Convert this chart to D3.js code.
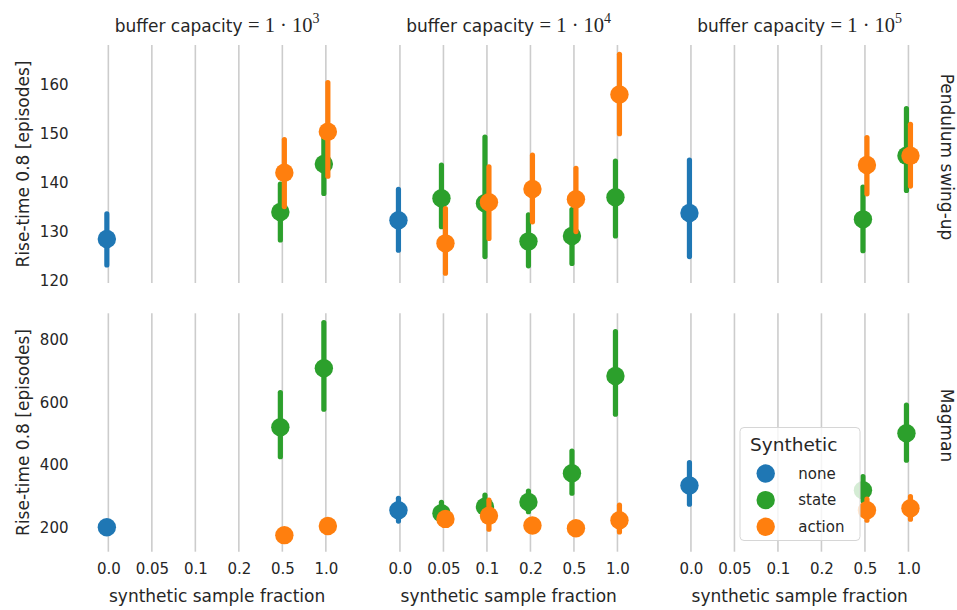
<!DOCTYPE html>
<html>
<head>
<meta charset="utf-8">
<script src="https://cdn.jsdelivr.net/npm/d3@7"></script>
<style>
  html, body { margin: 0; padding: 0; background: #fff; }
  svg { display: block; font-family: "DejaVu Sans", sans-serif; }
</style>
</head>
<body>
<svg id="chart" width="957" height="610"></svg>
<script>
// Categories along x, facet columns/rows and hue levels
const fractions = ["0.0", "0.05", "0.1", "0.2", "0.5", "1.0"];
const bufferExponents = ["3", "4", "5"];
const tasks = ["Pendulum swing-up", "Magman"];
const hues = ["none", "state", "action"];
const hueColors = ["#1f77b4", "#2ca02c", "#ff7f0e"];

// Y ticks per row
const pendulumTicks = [120, 130, 140, 150, 160];
const magmanTicks = [200, 400, 600, 800];

// Point estimates with interval: [bufferIndex, fraction, hue, mean, low, high]
const pendulumPoints = [
  [0, "0.0", "none", 128.6, 123.3, 133.7],
  [0, "0.5", "state", 134.1, 128.4, 139.8],
  [0, "0.5", "action", 142.1, 135.2, 148.9],
  [0, "1.0", "state", 143.9, 137.9, 149.6],
  [0, "1.0", "action", 150.5, 141.4, 160.5],
  [1, "0.0", "none", 132.4, 126.3, 138.7],
  [1, "0.05", "state", 136.9, 131.1, 143.7],
  [1, "0.05", "action", 127.7, 121.6, 134.8],
  [1, "0.1", "state", 135.9, 125.0, 149.4],
  [1, "0.1", "action", 136.1, 128.7, 143.3],
  [1, "0.2", "state", 128.1, 123.1, 133.5],
  [1, "0.2", "action", 138.8, 132.1, 145.7],
  [1, "0.5", "state", 129.2, 123.6, 134.6],
  [1, "0.5", "action", 136.7, 130.1, 143.0],
  [1, "1.0", "state", 137.1, 129.2, 144.5],
  [1, "1.0", "action", 158.1, 150.1, 166.3],
  [2, "0.0", "none", 133.9, 125.0, 144.7],
  [2, "0.5", "state", 132.6, 126.2, 139.2],
  [2, "0.5", "action", 143.7, 137.8, 149.3],
  [2, "1.0", "state", 145.6, 138.5, 155.2],
  [2, "1.0", "action", 145.6, 139.4, 152.0]
];
const magmanPoints = [
  [0, "0.0", "none", 200, 196, 204],
  [0, "0.5", "state", 520, 426, 631],
  [0, "0.5", "action", 175, 171, 179],
  [0, "1.0", "state", 709, 578, 855],
  [0, "1.0", "action", 204, 200, 208],
  [1, "0.0", "none", 255, 220, 293],
  [1, "0.05", "state", 245, 218, 280],
  [1, "0.05", "action", 227, 221, 233],
  [1, "0.1", "state", 266, 236, 303],
  [1, "0.1", "action", 237, 194, 287],
  [1, "0.2", "state", 281, 250, 316],
  [1, "0.2", "action", 206, 201, 211],
  [1, "0.5", "state", 373, 309, 444],
  [1, "0.5", "action", 197, 192, 202],
  [1, "1.0", "state", 684, 562, 826],
  [1, "1.0", "action", 223, 185, 271],
  [2, "0.0", "none", 334, 274, 407],
  [2, "0.5", "state", 319, 285, 362],
  [2, "0.5", "action", 255, 223, 290],
  [2, "1.0", "state", 501, 415, 591],
  [2, "1.0", "action", 261, 226, 298]
];

const textColor = "#262626";
const svg = d3.select("#chart");

// Facet geometry
const colLeft = [86.6, 378.2, 669.2];
const colWidth = 261;
const rowTop = [45, 313.3];
const rowBottom = [283, 551.7];
const rowDomains = [[119.6, 168.2], [122, 884.8]];
const rowTicks = [pendulumTicks, magmanTicks];
const rowData = [pendulumPoints, magmanPoints];
const hueShift = { none: -1.5, state: -2, action: 2 };

const hueColor = d3.scaleOrdinal().domain(hues).range(hueColors);

tasks.forEach((task, r) => {
  const y = d3.scaleLinear().domain(rowDomains[r]).range([rowBottom[r], rowTop[r]]);
  bufferExponents.forEach((exp, c) => {
    const x = d3.scalePoint().domain(fractions)
      .range([colLeft[c], colLeft[c] + colWidth]).padding(0.5);
    const g = svg.append("g");

    // vertical category grid
    g.selectAll("line.grid").data(fractions).join("line")
      .attr("x1", d => x(d)).attr("x2", d => x(d))
      .attr("y1", rowTop[r]).attr("y2", rowBottom[r])
      .attr("stroke", "#cccccc").attr("stroke-width", 1.6);

    // y tick labels only on the first column
    if (c === 0) {
      const yAxis = d3.axisLeft(y).tickValues(rowTicks[r]).tickSize(0).tickPadding(0);
      const ag = g.append("g").attr("transform", `translate(68.5,0)`).call(yAxis);
      ag.select(".domain").remove();
      ag.selectAll("text").attr("font-size", 15).attr("fill", textColor)
        .attr("font-family", "DejaVu Sans");
    }

    // x tick labels and axis label on the bottom row
    if (r === tasks.length - 1) {
      const xAxis = d3.axisBottom(x).tickSize(0).tickPadding(0);
      const ag = g.append("g").attr("transform", `translate(0,563.5)`).call(xAxis);
      ag.select(".domain").remove();
      ag.selectAll("text").attr("font-size", 15).attr("fill", textColor)
        .attr("font-family", "DejaVu Sans").attr("dy", "0.71em");
      g.append("text")
        .attr("x", colLeft[c] + colWidth / 2).attr("y", 602)
        .attr("text-anchor", "middle").attr("font-size", 17).attr("fill", textColor)
        .text("synthetic sample fraction");
    }

    // column titles on the top row
    if (r === 0) {
      const t = g.append("text")
        .attr("x", colLeft[c] + colWidth / 2).attr("y", 32)
        .attr("text-anchor", "middle").attr("fill", textColor);
      t.append("tspan").attr("font-size", 17).text("buffer capacity ");
      t.append("tspan").attr("font-family", "Liberation Serif, serif").attr("font-size", 20.5)
        .text("= 1 \u00B7 10");
      t.append("tspan").attr("font-family", "Liberation Serif, serif").attr("font-size", 14)
        .attr("dy", -9).text(exp);
    }

    // points with interval bars, drawn hue by hue
    const pts = rowData[r].filter(p => p[0] === c);
    hues.forEach(h => {
      const hp = pts.filter(p => p[2] === h);
      g.selectAll(null).data(hp).join("line")
        .attr("x1", p => x(p[1]) + hueShift[h]).attr("x2", p => x(p[1]) + hueShift[h])
        .attr("y1", p => y(p[4])).attr("y2", p => y(p[5]))
        .attr("stroke", hueColor(h)).attr("stroke-width", 5.2).attr("stroke-linecap", "round");
      g.selectAll(null).data(hp).join("circle")
        .attr("cx", p => x(p[1]) + hueShift[h]).attr("cy", p => y(p[3]))
        .attr("r", 9.2).attr("fill", hueColor(h));
    });
  });

  // y axis label
  const cy = (rowTop[r] + rowBottom[r]) / 2;
  svg.append("text")
    .attr("transform", `translate(28.5,${cy}) rotate(-90)`)
    .attr("text-anchor", "middle").attr("font-size", 17).attr("fill", textColor)
    .text("Rise-time 0.8 [episodes]");

  // row label on the right
  svg.append("text")
    .attr("transform", `translate(941,${cy - 7}) rotate(90)`)
    .attr("text-anchor", "middle").attr("font-size", 17).attr("fill", textColor)
    .text(task);
});

// Legend
const lg = svg.append("g").attr("transform", "translate(740,427.5)");
lg.append("rect").attr("width", 120).attr("height", 113).attr("rx", 4)
  .attr("fill", "#ffffff").attr("fill-opacity", 0.8)
  .attr("stroke", "#d6d6d6").attr("stroke-width", 1);
lg.append("text").attr("x", 10).attr("y", 23.5).attr("font-size", 18.5)
  .attr("fill", textColor).text("Synthetic");
hues.forEach((h, i) => {
  lg.append("circle").attr("cx", 25.7).attr("cy", 46 + i * 26.6).attr("r", 9.2)
    .attr("fill", hueColor(h));
  lg.append("text").attr("x", 58.3).attr("y", 46 + i * 26.6).attr("dy", "0.35em")
    .attr("font-size", 15).attr("fill", textColor).text(h);
});
</script>
</body>
</html>
